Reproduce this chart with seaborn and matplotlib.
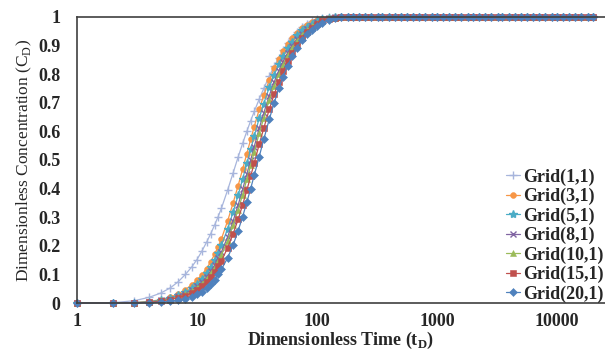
import numpy as np
import pandas as pd
import matplotlib
matplotlib.use("Agg")
import matplotlib.pyplot as plt
import seaborn as sns

# ---- data ----
t_trans = [1, 2, 3, 4, 5, 6, 7, 8, 9, 10, 11, 12, 13, 14, 15, 16, 18, 20, 22, 24, 26, 28, 30,
           33, 36, 40, 44, 48, 52, 57, 62, 68, 75, 82, 90, 100, 110, 125, 140, 160, 180]
t_plateau = [200, 225, 250, 280, 320, 350, 400, 450, 500, 560, 630, 710, 800, 900, 1000, 1120,
             1250, 1400, 1600, 1800, 2000, 2250, 2500, 2800, 3200, 3500, 4000, 4500, 5000, 5600,
             6300, 7100, 8000, 9000, 10000, 11200, 12500, 14000, 16000, 18000, 20000]
c_plateau = [1.0, 1.0, 1.0, 1.0, 1.0, 1.0, 1.0, 1.0, 1.0, 1.0, 1.0, 1.0, 1.0, 1.0, 1.0, 1.0,
             1.0, 1.0, 1.0, 1.0, 1.0, 1.0, 1.0, 1.0, 1.0, 1.0, 1.0, 1.0, 1.0, 1.0,
             1.0, 1.0, 1.0, 1.0, 1.0, 1.0, 1.0, 1.0, 1.0, 1.0, 1.0]

grid_1_1 = [0, 0.001, 0.008, 0.02, 0.035, 0.053, 0.075, 0.1, 0.125, 0.152, 0.182, 0.212, 0.242,
            0.272, 0.302, 0.332, 0.395, 0.455, 0.51, 0.558, 0.6, 0.637, 0.67, 0.713, 0.75, 0.793,
            0.828, 0.858, 0.883, 0.908, 0.928, 0.948, 0.964, 0.976, 0.985, 0.992, 0.996, 0.999,
            1, 1, 1]
grid_3_1 = [0, 0, 0.001, 0.005, 0.012, 0.021, 0.032, 0.047, 0.063, 0.08, 0.099, 0.12, 0.144,
            0.17, 0.197, 0.225, 0.287, 0.35, 0.41, 0.468, 0.522, 0.572, 0.617, 0.677, 0.726,
            0.779, 0.82, 0.853, 0.88, 0.905, 0.926, 0.945, 0.96, 0.972, 0.982, 0.989, 0.994,
            0.998, 1, 1, 1]
grid_5_1 = [0, 0, 0.001, 0.004, 0.011, 0.018, 0.027, 0.038, 0.051, 0.066, 0.084, 0.104, 0.127,
            0.151, 0.176, 0.203, 0.259, 0.318, 0.376, 0.433, 0.488, 0.537, 0.584, 0.646, 0.697,
            0.754, 0.798, 0.834, 0.862, 0.891, 0.914, 0.936, 0.953, 0.966, 0.977, 0.986, 0.993,
            0.997, 0.999, 1, 1]
grid_8_1 = [0, 0, 0.001, 0.003, 0.009, 0.015, 0.023, 0.032, 0.044, 0.058, 0.073, 0.091, 0.111,
            0.132, 0.156, 0.179, 0.231, 0.287, 0.342, 0.397, 0.45, 0.5, 0.547, 0.611, 0.664,
            0.725, 0.773, 0.812, 0.844, 0.875, 0.9, 0.922, 0.942, 0.957, 0.97, 0.982, 0.99,
            0.996, 0.999, 1, 1]
grid_10_1 = [0, 0, 0.001, 0.003, 0.009, 0.014, 0.021, 0.03, 0.041, 0.054, 0.068, 0.085, 0.104,
             0.124, 0.146, 0.169, 0.218, 0.272, 0.325, 0.379, 0.432, 0.481, 0.529, 0.593, 0.647,
             0.71, 0.76, 0.8, 0.833, 0.866, 0.892, 0.916, 0.938, 0.954, 0.968, 0.98, 0.989,
             0.995, 0.998, 1, 1]
grid_15_1 = [0, 0, 0.001, 0.002, 0.007, 0.012, 0.018, 0.026, 0.035, 0.046, 0.059, 0.074, 0.09,
             0.108, 0.128, 0.148, 0.193, 0.242, 0.292, 0.343, 0.394, 0.443, 0.49, 0.555, 0.611,
             0.677, 0.73, 0.774, 0.81, 0.847, 0.875, 0.902, 0.928, 0.948, 0.962, 0.975, 0.985,
             0.993, 0.997, 0.999, 1]
grid_20_1 = [0, 0, 0, 0.001, 0.003, 0.006, 0.01, 0.015, 0.022, 0.03, 0.04, 0.052, 0.066,
             0.082, 0.1, 0.118, 0.158, 0.203, 0.252, 0.302, 0.352, 0.4, 0.447, 0.512, 0.572,
             0.642, 0.7, 0.75, 0.79, 0.83, 0.862, 0.893, 0.92, 0.94, 0.956, 0.97, 0.98,
             0.99, 0.996, 0.999, 1]

labels = ["Grid(1,1)", "Grid(3,1)", "Grid(5,1)", "Grid(8,1)", "Grid(10,1)", "Grid(15,1)", "Grid(20,1)"]
series = [grid_1_1, grid_3_1, grid_5_1, grid_8_1, grid_10_1, grid_15_1, grid_20_1]

x_ticks = [1, 10, 100, 1000, 10000]
x_ticklabels = ["1", "10", "100", "1000", "10000"]
y_ticks = [0, 0.1, 0.2, 0.3, 0.4, 0.5, 0.6, 0.7, 0.8, 0.9, 1]
y_ticklabels = ["0", "0.1", "0.2", "0.3", "0.4", "0.5", "0.6", "0.7", "0.8", "0.9", "1"]

# ---- styles ----
colors = ["#a7b5dc", "#f79646", "#4bacc6", "#8064a2", "#9bbb59", "#c0504d", "#4f81bd"]
markers = ["+", "o", "*", "x", "^", "s", "D"]
msizes = [6, 4.2, 6, 5, 4.5, 4.2, 3.6]

sns.set_style("white")
plt.rcParams["font.family"] = ["Liberation Serif", "DejaVu Serif"]

fig = plt.figure(figsize=(6.05, 3.5), dpi=100)
ax = fig.add_axes([77 / 605, 47 / 350, 528 / 605, 286 / 350])

t_all = t_trans + t_plateau
for lab, vals, col, mk, ms in zip(labels, series, colors, markers, msizes):
    df = pd.DataFrame({"t": t_all, "c": vals + c_plateau})
    sns.lineplot(data=df, x="t", y="c", ax=ax, color=col, marker=mk, markersize=ms,
                 markeredgecolor=col, markeredgewidth=1.0 if mk in "+x*" else 0.4,
                 linewidth=0.9, label=lab, clip_on=False, estimator=None, sort=False)

ax.set_xscale("log")
ax.set_xlim(1, 10 ** 4.4)
ax.set_ylim(0, 1)
ax.set_xticks(x_ticks)
ax.set_xticklabels(x_ticklabels)
ax.set_yticks(y_ticks)
ax.set_yticklabels(y_ticklabels)
ax.minorticks_off()
ax.tick_params(axis="both", length=0, labelsize=13)
ax.tick_params(axis="y", pad=12)
ax.tick_params(axis="x", pad=7)
for lbl in ax.get_xticklabels() + ax.get_yticklabels():
    lbl.set_fontweight("bold")

for side in ["left", "bottom", "top"]:
    ax.spines[side].set_color("#404040")
    ax.spines[side].set_linewidth(1.2)
ax.spines["right"].set_visible(False)

ax.set_xlabel(r"Dimensionless Time (t$_\mathregular{D}$)", fontsize=13, fontweight="bold",
              va="center")
ax.xaxis.set_label_coords(0.5, -0.132)
ax.set_ylabel(r"Dimensionless Concentration (C$_\mathregular{D}$)", fontsize=12.5, va="center")
ax.yaxis.set_label_coords(-0.099, 0.5)

leg = ax.legend(loc="lower right", bbox_to_anchor=(1.0, -0.005), frameon=False,
                prop={"family": "Liberation Serif", "weight": "bold", "size": 13},
                handlelength=0.8, handletextpad=0.15, labelspacing=0.12, borderaxespad=0.0,
                borderpad=0.1)

fig.savefig("out.png", dpi=100)
